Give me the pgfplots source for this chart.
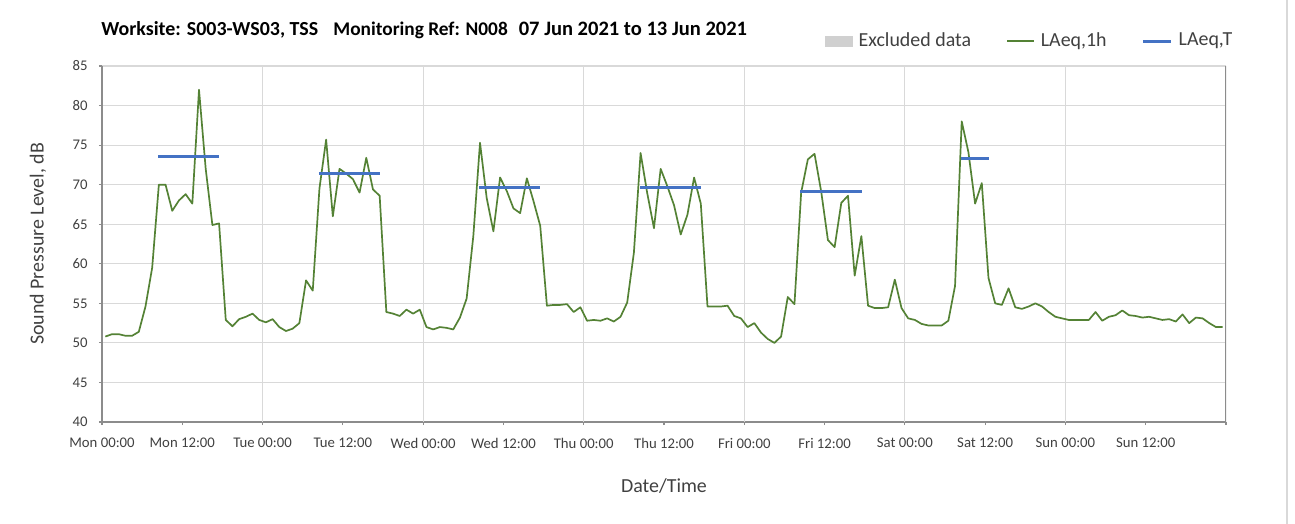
\documentclass[border=0pt]{standalone}
\usepackage{pgfplots}
\pgfplotsset{compat=1.18}
\usepackage{pgfplotstable}
\usepackage{fontspec}
\setmainfont{Carlito}
\definecolor{lgreen}{HTML}{548235}
\definecolor{lblue}{HTML}{4472C4}
\definecolor{gridc}{HTML}{D9D9D9}
\definecolor{axc}{HTML}{8C8C8C}
\definecolor{txt}{HTML}{404040}
\definecolor{excl}{HTML}{D0D0D0}

\pgfplotstableread{
t L
0.5 50.8
1.5 51.1
2.5 51.1
3.5 50.9
4.5 50.9
5.5 51.4
6.5 54.6
7.5 59.5
8.5 70.0
9.5 70.0
10.5 66.7
11.5 68.0
12.5 68.8
13.5 67.6
14.5 82.0
15.5 72.0
16.5 64.9
17.5 65.1
18.5 52.9
19.5 52.1
20.5 53.0
21.5 53.3
22.5 53.7
23.5 52.9
24.5 52.6
25.5 53.0
26.5 52.0
27.5 51.5
28.5 51.8
29.5 52.5
30.5 57.9
31.5 56.6
32.5 69.5
33.5 75.7
34.5 66.0
35.5 72.0
36.5 71.4
37.5 70.7
38.5 69.0
39.5 73.4
40.5 69.4
41.5 68.6
42.5 53.9
43.5 53.7
44.5 53.4
45.5 54.2
46.5 53.7
47.5 54.2
48.5 52.0
49.5 51.7
50.5 52.0
51.5 51.9
52.5 51.7
53.5 53.2
54.5 55.6
55.5 63.5
56.5 75.3
57.5 68.3
58.5 64.1
59.5 70.9
60.5 69.2
61.5 67.0
62.5 66.4
63.5 70.8
64.5 67.9
65.5 64.8
66.5 54.7
67.5 54.8
68.5 54.8
69.5 54.9
70.5 53.9
71.5 54.5
72.5 52.8
73.5 52.9
74.5 52.8
75.5 53.1
76.5 52.7
77.5 53.3
78.5 55.1
79.5 61.4
80.5 74.0
81.5 68.9
82.5 64.5
83.5 72.0
84.5 69.8
85.5 67.4
86.5 63.7
87.5 66.2
88.5 70.9
89.5 67.6
90.5 54.6
91.5 54.6
92.5 54.6
93.5 54.7
94.5 53.4
95.5 53.1
96.5 52.0
97.5 52.5
98.5 51.3
99.5 50.5
100.5 50.0
101.5 50.8
102.5 55.8
103.5 54.9
104.5 69.0
105.5 73.2
106.5 73.9
107.5 69.1
108.5 63.0
109.5 62.1
110.5 67.7
111.5 68.6
112.5 58.5
113.5 63.5
114.5 54.7
115.5 54.4
116.5 54.4
117.5 54.5
118.5 58.0
119.5 54.4
120.5 53.1
121.5 52.9
122.5 52.4
123.5 52.2
124.5 52.2
125.5 52.2
126.5 52.8
127.5 57.2
128.5 78.0
129.5 74.1
130.5 67.6
131.5 70.2
132.5 58.2
133.5 55.0
134.5 54.8
135.5 56.9
136.5 54.5
137.5 54.3
138.5 54.6
139.5 55.0
140.5 54.6
141.5 53.9
142.5 53.3
143.5 53.1
144.5 52.9
145.5 52.9
146.5 52.9
147.5 52.9
148.5 53.9
149.5 52.8
150.5 53.3
151.5 53.5
152.5 54.1
153.5 53.5
154.5 53.4
155.5 53.2
156.5 53.3
157.5 53.1
158.5 52.9
159.5 53.0
160.5 52.7
161.5 53.6
162.5 52.5
163.5 53.2
164.5 53.1
165.5 52.5
166.5 52.0
167.5 52.0
}\hourly

\pgfplotstableread{
t L
8.4 73.5
17.5 73.5
nan nan
32.4 71.4
41.6 71.4
nan nan
56.4 69.65
65.5 69.65
nan nan
80.45 69.6
89.6 69.6
nan nan
104.35 69.1
113.65 69.1
nan nan
128.4 73.3
132.55 73.3
}\period

\begin{document}
\begin{tikzpicture}
\path[use as bounding box] (0,0) rectangle (647.5bp,262bp);
\draw[gridc, line width=0.6bp] (643.5bp,0) -- (643.5bp,262bp);
\node[anchor=base west, font=\bfseries\fontsize{10}{12}\selectfont, inner sep=0pt] at (50.5bp,244.2bp) {Worksite: S003-WS03, TSS};
\node[anchor=base west, font=\bfseries\fontsize{9.7}{12}\selectfont, inner sep=0pt] at (166.5bp,244.2bp) {Monitoring Ref: N008};
\node[anchor=base west, font=\bfseries\fontsize{10.3}{12}\selectfont, inner sep=0pt] at (259.2bp,244.2bp) {07 Jun 2021 to 13 Jun 2021};
\begin{axis}[
  at={(51bp,51bp)}, anchor=south west,
  width=562bp, height=178bp, scale only axis,
  xmin=0, xmax=168, ymin=40, ymax=85,
  xtick={0,12,...,168},
  xticklabels={Mon 00:00, Mon 12:00, Tue 00:00, Tue 12:00, Wed 00:00, Wed 12:00, Thu 00:00, Thu 12:00, Fri 00:00, Fri 12:00, Sat 00:00, Sat 12:00, Sun 00:00, Sun 12:00, {}},
  ytick={40,45,...,85},
  extra x ticks={24,48,...,144},
  extra x tick labels={},
  extra x tick style={xmajorgrids=true, major tick length=0pt},
  ymajorgrids=true,
  grid style={gridc, line width=0.6bp},
  axis x line*=bottom, axis y line*=left,
  axis line style={axc, line width=0.6bp},
  tick align=outside,
  major tick length=1.5bp,
  tick style={axc, line width=0.6bp},
  /pgf/number format/assume math mode=true,
  ticklabel style={font=\fontsize{7.4}{9}\selectfont, text=txt},
  xticklabel style={anchor=north, inner sep=0pt, yshift=-6.5bp},
  yticklabel style={anchor=east, inner sep=0pt, xshift=-5.5bp},
  xlabel={Date/Time},
  ylabel={Sound Pressure Level, dB},
  label style={font=\fontsize{10}{12}\selectfont, text=txt},
  xlabel style={at={(axis description cs:0.5,-0.18)}, anchor=center},
  ylabel style={at={(axis description cs:-0.057,0.5)}, anchor=center},
  unbounded coords=jump,
  legend columns=3,
  legend cell align=left,
  legend style={at={(axis description cs:0.6374,1.07)}, anchor=west, draw=none, fill=none,
    font=\fontsize{10}{12}\selectfont, text=txt,
    nodes={inner xsep=1bp},
    /tikz/every even column/.append style={column sep=16.5bp}},
]
\draw[axc, line width=0.6bp] (rel axis cs:1,0) -- (rel axis cs:1,1);
\addlegendimage{legend image code/.code={\fill[excl] (0bp,-2.5bp) rectangle (13.5bp,2.5bp); \path (15.5bp,0bp);}}
\addlegendentry{Excluded data}
\addplot[lgreen, line width=0.85bp, line join=round, mark=none,
  legend image code/.code={\draw[lgreen, line width=0.85bp] (0bp,0bp) -- (13.5bp,0bp); \path (15.5bp,0bp);}] table[x=t, y=L] {\hourly};
\addlegendentry{LAeq,1h}
\addplot[lblue, line width=1.5bp, mark=none,
  legend image code/.code={\draw[lblue, line width=1.5bp] (0bp,0bp) -- (14bp,0bp); \path (16bp,0bp);}] table[x=t, y=L] {\period};
\addlegendentry{LAeq,T}
\end{axis}
\end{tikzpicture}
\end{document}
